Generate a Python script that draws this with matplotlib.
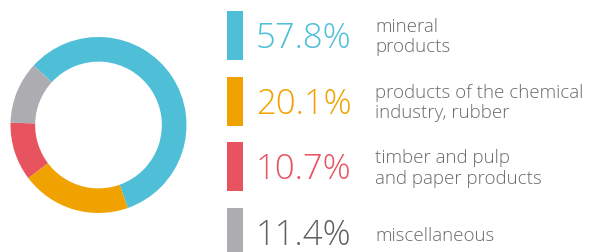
"""Donut chart of export structure with a big-number legend on the right."""
import matplotlib
matplotlib.use("Agg")
import matplotlib.pyplot as plt
from matplotlib.patches import Rectangle

# ---- data ----
shares = [57.8, 20.1, 10.7, 11.4]
pct_labels = ["57.8%", "20.1%", "10.7%", "11.4%"]
names = [
    "mineral\nproducts",
    "products of the chemical\nindustry, rubber",
    "timber and pulp\nand paper products",
    "miscellaneous",
]
colors = ["#4fbfd8", "#f0a300", "#e85360", "#adadb1"]
pct_colors = ["#4fbfd8", "#f0a300", "#e85360", "#606064"]
TEXT_GREY = "#6a6a6e"

plt.rcParams["font.family"] = ["Open Sans", "DejaVu Sans"]

W, H = 607, 252
fig = plt.figure(figsize=(W / 100, H / 100), dpi=100)

# donut: center ~ (98.5, 125) px, outer radius ~88 px
cx, cy, r = 98.5, 125, 88
ax = fig.add_axes([(cx - r) / W, (H - cy - r) / H, 2 * r / W, 2 * r / H])
ax.pie(shares, colors=colors, startangle=137.5, counterclock=False,
       radius=1, wedgeprops=dict(width=0.28, edgecolor="none"))
ax.set_xlim(-1, 1)
ax.set_ylim(-1, 1)
ax.set_aspect("equal")
ax.axis("off")

# legend overlay in pixel coordinates (y down)
lg = fig.add_axes([0, 0, 1, 1], facecolor="none")
lg.set_xlim(0, W)
lg.set_ylim(H, 0)
lg.axis("off")

row0, step = 35.5, 65.7
for i, (p, n) in enumerate(zip(pct_labels, names)):
    yc = row0 + i * step
    lg.add_patch(Rectangle((227, yc - 24.5), 16, 49, color=colors[i], lw=0))
    lg.text(256, yc + 12.5, p, fontsize=25, color=pct_colors[i],
            fontweight="light", va="baseline", ha="left")
    lines = n.split("\n")
    offs = [-3.5, 17] if len(lines) == 2 else [8]
    for line, off in zip(lines, offs):
        lg.text(375, yc + off, line, fontsize=13.5, color=TEXT_GREY,
                fontweight="light", va="baseline", ha="left")

fig.savefig("out.png", dpi=100)
